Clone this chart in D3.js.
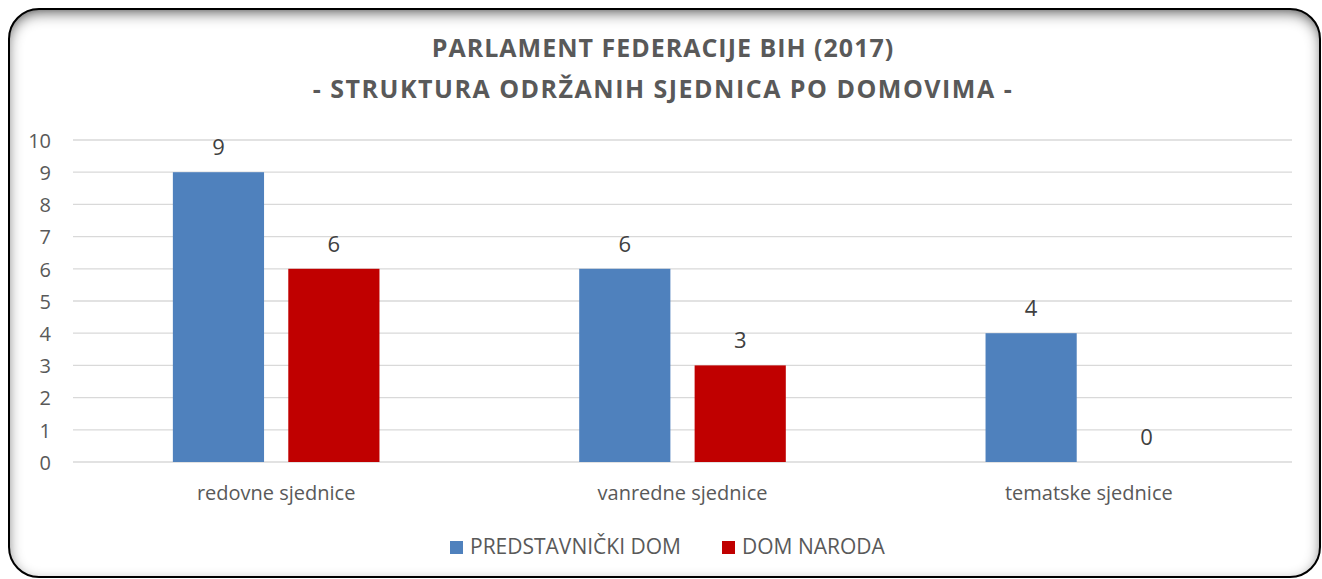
<!DOCTYPE html>
<html><head><meta charset="utf-8">
<script src="https://cdn.jsdelivr.net/npm/d3@7"></script>
<style>body{margin:0;background:#fff}svg{display:block}</style>
</head><body>
<svg id="c" width="1322" height="579"></svg>
<script>
const categories = ["redovne sjednice","vanredne sjednice","tematske sjednice"];
const seriesNames = ["PREDSTAVNIČKI DOM","DOM NARODA"];
const predstavnicki = [9,6,4];
const domNaroda = [6,3,0];
const yTicks = [0,1,2,3,4,5,6,7,8,9,10];
const colors = ["#4f81bd","#c00000"];
const titleLines = ["PARLAMENT FEDERACIJE BIH (2017)","- STRUKTURA ODRŽANIH SJEDNICA PO DOMOVIMA -"];

const svg = d3.select("#c");
const font = "'Open Sans', sans-serif";
const defs = svg.append("defs");
const f = defs.append("filter").attr("id","inset").attr("x","-5%").attr("y","-5%").attr("width","110%").attr("height","110%");
f.append("feFlood").attr("flood-color","#000").attr("flood-opacity","1").attr("result","fl");
f.append("feComposite").attr("in","fl").attr("in2","SourceAlpha").attr("operator","out").attr("result","inv");
f.append("feOffset").attr("in","inv").attr("dx",0).attr("dy",5).attr("result","off");
f.append("feGaussianBlur").attr("in","off").attr("stdDeviation",7).attr("result","bl");
f.append("feComposite").attr("in","bl").attr("in2","SourceAlpha").attr("operator","in").attr("result","sh");
const m = f.append("feMerge");
m.append("feMergeNode").attr("in","SourceGraphic");
m.append("feMergeNode").attr("in","sh");

svg.append("rect").attr("x",9).attr("y",9).attr("width",1311).attr("height",568).attr("rx",30)
  .attr("fill","#fff").attr("filter","url(#inset)");
svg.append("rect").attr("x",9).attr("y",9).attr("width",1311).attr("height",568).attr("rx",30)
  .attr("fill","none").attr("stroke","#000").attr("stroke-width",2);

const x0 = d3.scaleBand().domain(categories).range([73,1292]);
const x1 = d3.scaleBand().domain(seriesNames).range([0,206.6]).paddingInner(0.21);
const y = d3.scaleLinear().domain([0,10]).range([462,140]);

const g = svg.append("g");
g.selectAll("line.grid").data(yTicks).join("line")
  .attr("x1",73).attr("x2",1292).attr("y1",d=>y(d)).attr("y2",d=>y(d))
  .attr("stroke","#d9d9d9").attr("stroke-width",1.3);

const yAxis = d3.axisLeft(y).tickValues(yTicks).tickSize(0).tickPadding(0);
const ya = g.append("g").attr("transform","translate(51,0)").call(yAxis);
ya.select(".domain").remove();
ya.selectAll("text").attr("font-family",font).attr("font-size",20).attr("fill","#595959").attr("dy","0.36em");

const xAxis = d3.axisBottom(x0).tickSize(0).tickPadding(0);
const xa = g.append("g").attr("transform","translate(0,500)").call(xAxis);
xa.select(".domain").remove();
xa.selectAll("text").attr("font-family",font).attr("font-size",20).attr("fill","#595959").attr("y",0).attr("dy",0);

const data = categories.map((c,i)=>({c, vals:[predstavnicki[i],domNaroda[i]]}));
const grp = g.selectAll("g.cat").data(data).join("g")
  .attr("transform",d=>`translate(${x0(d.c)+x0.bandwidth()/2-103.3},0)`);
grp.selectAll("rect").data(d=>d.vals.map((v,j)=>({v,s:seriesNames[j],j}))).join("rect")
  .attr("x",d=>x1(d.s)).attr("width",x1.bandwidth())
  .attr("y",d=>y(d.v)).attr("height",d=>y(0)-y(d.v)).attr("fill",d=>colors[d.j]);
grp.selectAll("text").data(d=>d.vals.map((v,j)=>({v,s:seriesNames[j],j}))).join("text")
  .attr("x",d=>x1(d.s)+x1.bandwidth()/2).attr("y",d=>y(d.v)-17)
  .attr("text-anchor","middle").attr("font-family",font).attr("font-size",22).attr("fill","#404040")
  .text(d=>d.v);

svg.selectAll("text.title").data(titleLines).join("text").attr("class","title")
  .attr("x",663).attr("y",(d,i)=>57+i*41).attr("text-anchor","middle")
  .attr("font-family",font).attr("font-weight","bold").attr("font-size",25)
  .attr("letter-spacing",(d,i)=>i===0?"1px":"1.5px").attr("fill","#595959")
  .text(d=>d);

const legX = [450,722];
const leg = svg.selectAll("g.leg").data(seriesNames).join("g").attr("transform",(d,i)=>`translate(${legX[i]},541)`);
leg.append("rect").attr("width",13).attr("height",13).attr("fill",(d,i)=>colors[i]);
leg.append("text").attr("x",20).attr("y",13).attr("font-family",font).attr("font-size",21).attr("fill","#595959").text(d=>d);
</script>
</body></html>
